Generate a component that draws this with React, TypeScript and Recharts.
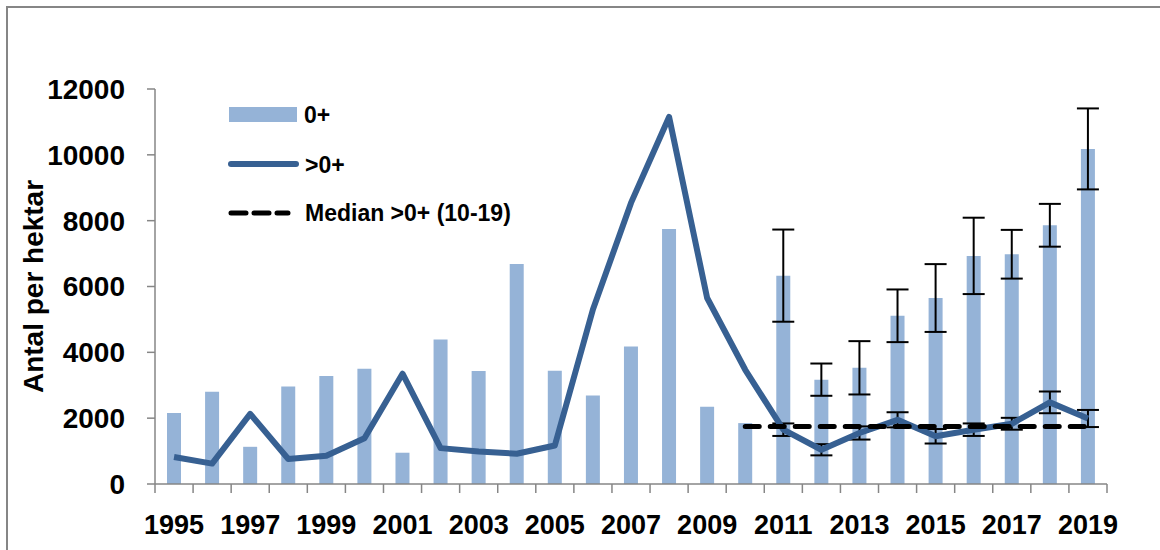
import {
  ComposedChart,
  Bar,
  Line,
  XAxis,
  YAxis,
  ErrorBar,
  Legend,
} from 'recharts';

// values
const years = [
  1995, 1996, 1997, 1998, 1999, 2000, 2001, 2002, 2003, 2004, 2005, 2006, 2007,
  2008, 2009, 2010, 2011, 2012, 2013, 2014, 2015, 2016, 2017, 2018, 2019,
];
const young = [
  2160, 2800, 1130, 2960, 3280, 3500, 950, 4390, 3430, 6680, 3440, 2690, 4180,
  7750, 2350, 1850, 6330, 3170, 3530, 5110, 5650, 6930, 6980, 7860, 10180,
];
const youngErr = [
  null, null, null, null, null, null, null, null, null, null, null, null, null,
  null, null, null, 1400, 490, 810, 800, 1030, 1160, 740, 650, 1230,
];
const older = [
  820, 620, 2130, 760, 860, 1390, 3350, 1090, 990, 920, 1170, 5300, 8540,
  11150, 5650, 3470, 1650, 1040, 1550, 1950, 1450, 1650, 1830, 2480, 1990,
];
const olderErr = [
  null, null, null, null, null, null, null, null, null, null, null, null, null,
  null, null, null, 190, 170, 200, 230, 220, 190, 180, 330, 260,
];
const medianYears = [2010, 2011, 2012, 2013, 2014, 2015, 2016, 2017, 2018, 2019];
const medianValue = 1750;
const yTicks = [0, 2000, 4000, 6000, 8000, 10000, 12000];

const data = years.map((year, i) => ({
  year,
  young: young[i],
  youngErr: youngErr[i],
  older: older[i],
  olderErr: olderErr[i],
  median: medianYears.includes(year) ? medianValue : null,
}));

const BAR = '#95B3D7';
const LINE = '#376092';
const AXIS = '#868686';
const FONT = '"Liberation Sans", Arial, sans-serif';

function YearTick(props: any) {
  const { x, y, payload, index } = props;
  const half = payload && typeof payload.offset === 'number' ? payload.offset : 19;
  const last = index === years.length - 1;
  return (
    <g>
      <line x1={x - half} x2={x - half} y1={y} y2={y + 9} stroke={AXIS} strokeWidth={1.5} />
      {last && <line x1={x + half} x2={x + half} y1={y} y2={y + 9} stroke={AXIS} strokeWidth={1.5} />}
      {index % 2 === 0 && (
        <text
          x={x}
          y={y + 41}
          textAnchor="middle"
          dominantBaseline="central"
          fontFamily={FONT}
          fontWeight="bold"
          fontSize={27}
          fill="#000"
        >
          {payload.value}
        </text>
      )}
    </g>
  );
}

function YLabel(props: any) {
  const vb = props.viewBox || {};
  const cy = (vb.y ?? 89) + (vb.height ?? 395) / 2;
  return (
    <text
      x={33}
      y={cy}
      transform={`rotate(-90 33 ${cy})`}
      textAnchor="middle"
      dominantBaseline="central"
      fontFamily={FONT}
      fontWeight="bold"
      fontSize={28}
      fill="#000"
    >
      Antal per hektar
    </text>
  );
}

function ChartLegend() {
  const text = { fontFamily: FONT, fontWeight: 'bold' as const, fontSize: 23, fill: '#000' };
  return (
    <svg width={330} height={140} style={{ display: 'block' }}>
      <rect x={4} y={12} width={68} height={15} fill={BAR} />
      <text x={79} y={19.5} dominantBaseline="central" {...text}>0+</text>
      <line x1={6} x2={71} y1={69} y2={69} stroke={LINE} strokeWidth={6} strokeLinecap="round" />
      <text x={80} y={70} dominantBaseline="central" {...text}>&gt;0+</text>
      <line
        x1={6}
        x2={63}
        y1={118}
        y2={118}
        stroke="#000"
        strokeWidth={5}
        strokeLinecap="round"
        strokeDasharray="15 8"
      />
      <text x={80} y={118} dominantBaseline="central" {...text}>Median &gt;0+ (10-19)</text>
    </svg>
  );
}

export default function App() {
  return (
    <div
      style={{
        position: 'absolute',
        left: 0,
        top: 0,
        width: 1160,
        height: 550,
        overflow: 'hidden',
        background: '#fff',
      }}
    >
      <div
        style={{
          position: 'absolute',
          left: 6,
          top: 6,
          width: 1300,
          height: 700,
          border: `2px solid ${AXIS}`,
        }}
      />
      <ComposedChart
        width={1160}
        height={550}
        data={data}
        margin={{ top: 89, right: 53, bottom: 0, left: 0 }}
        barCategoryGap={0}
      >
        <XAxis
          dataKey="year"
          interval={0}
          height={66}
          tickSize={0}
          tickMargin={0}
          tickLine={false}
          axisLine={{ stroke: AXIS, strokeWidth: 1.5 }}
          tick={<YearTick />}
        />
        <YAxis
          width={155}
          domain={[0, 12000]}
          ticks={yTicks}
          interval={0}
          tickSize={8}
          tickMargin={22}
          axisLine={{ stroke: AXIS, strokeWidth: 1.5 }}
          tickLine={{ stroke: AXIS, strokeWidth: 1.5 }}
          tick={{ fontFamily: FONT, fontWeight: 'bold', fontSize: 28, fill: '#000' }}
          label={<YLabel />}
        />
        <Legend
          layout="vertical"
          align="center"
          verticalAlign="middle"
          content={<ChartLegend />}
          wrapperStyle={{ left: 225, top: 95, width: 330, height: 140 }}
        />
        <Bar dataKey="young" name="0+" fill={BAR} barSize={14} isAnimationActive={false}>
          <ErrorBar dataKey="youngErr" width={11} stroke="#000" strokeWidth={2} />
        </Bar>
        <Line
          dataKey="older"
          name=">0+"
          stroke={LINE}
          strokeWidth={6}
          dot={false}
          activeDot={false}
          type="linear"
          strokeLinejoin="round"
          isAnimationActive={false}
        >
          <ErrorBar dataKey="olderErr" width={11} stroke="#000" strokeWidth={2} />
        </Line>
        <Line
          dataKey="median"
          name="Median >0+ (10-19)"
          stroke="#000"
          strokeWidth={5}
          strokeLinecap="round"
          strokeDasharray="14 11"
          dot={false}
          activeDot={false}
          type="linear"
          isAnimationActive={false}
        />
      </ComposedChart>
    </div>
  );
}
